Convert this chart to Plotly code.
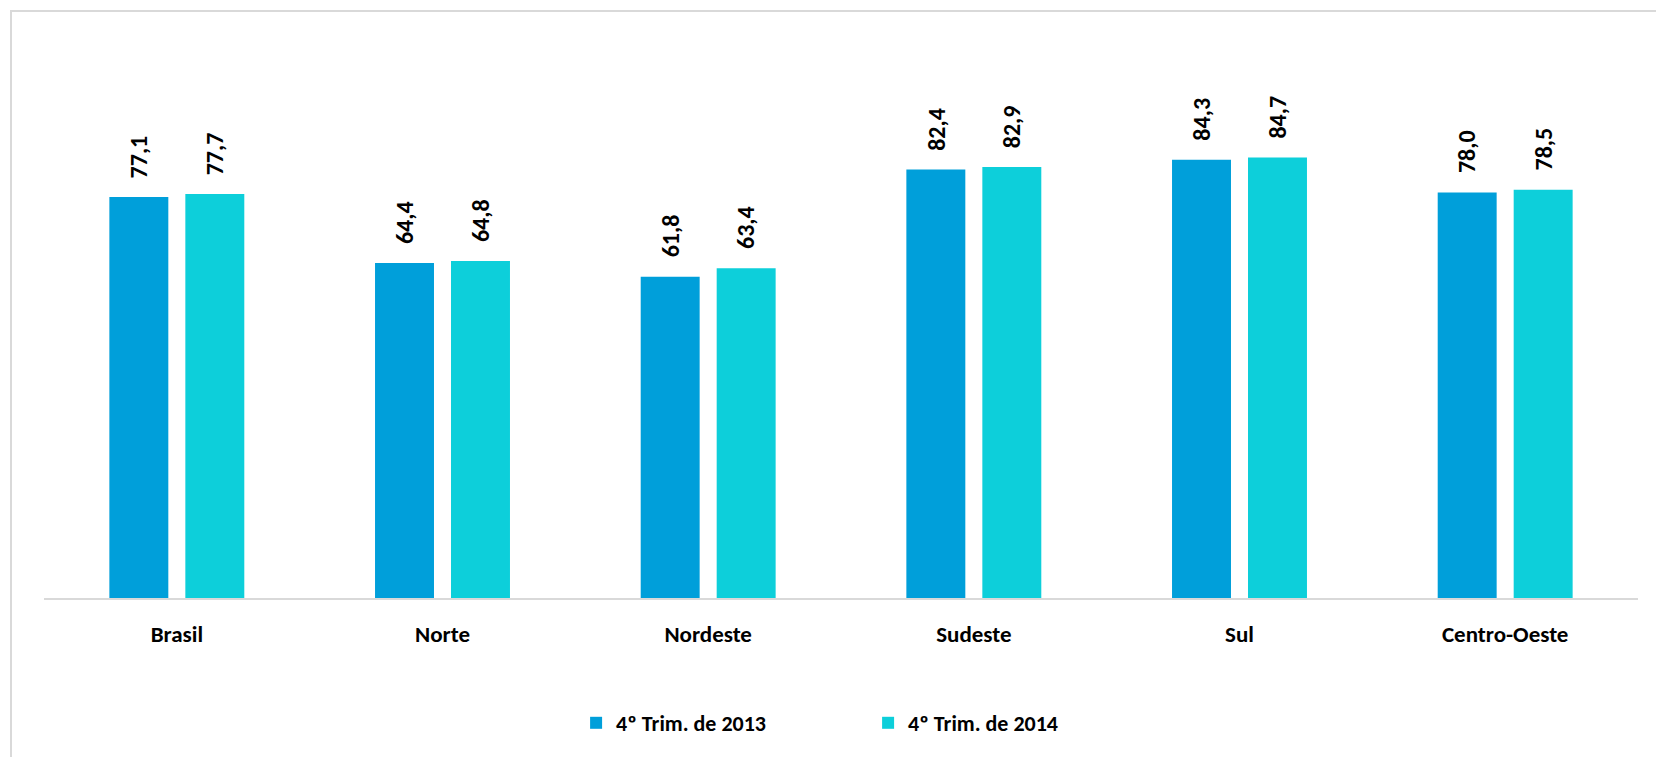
import plotly.graph_objects as go

categories = ["Brasil", "Norte", "Nordeste", "Sudeste", "Sul", "Centro-Oeste"]
series_names = ["4º Trim. de 2013", "4º Trim. de 2014"]
values_2013 = [77.1, 64.4, 61.8, 82.4, 84.3, 78.0]
values_2014 = [77.7, 64.8, 63.4, 82.9, 84.7, 78.5]
colors = ["#009fda", "#0dcfda"]

FONT = "Carlito, Lato, 'Open Sans', sans-serif"
W, H = 1656, 757
ML, MR, MT, MB = 44, 18, 78, 159

fig = go.Figure()
for name, vals, col in zip(series_names, [values_2013, values_2014], colors):
    fig.add_trace(go.Bar(
        x=categories, y=vals, name=name,
        marker=dict(color=col, line=dict(width=0)),
    ))

def fmt(v):
    return f"{v:.1f}".replace(".", ",")

annotations = []
for shift, vals in zip([-38, 38], [values_2013, values_2014]):
    for c, v in zip(categories, vals):
        annotations.append(dict(
            x=c, y=v, xref="x", yref="y", text=fmt(v), showarrow=False,
            textangle=-90, xanchor="center", yanchor="bottom",
            xshift=shift, yshift=17,
            font=dict(family=FONT, size=24, color="#000000", weight="bold"),
        ))

ph = H - MT - MB
pw = W - ML - MR
fig.add_shape(type="rect", xref="paper", yref="paper",
              x0=(11 - ML) / pw, x1=1.2,
              y0=-0.6, y1=(H - MB - 11) / ph,
              line=dict(color="#d9d9d9", width=2), fillcolor="rgba(0,0,0,0)",
              layer="below")

fig.update_layout(
    width=W, height=H,
    margin=dict(l=ML, r=MR, t=MT, b=MB, pad=0),
    paper_bgcolor="white", plot_bgcolor="white",
    barmode="group", bargap=0.428, bargroupgap=0.224,
    annotations=annotations,
    font=dict(family=FONT, color="#000000"),
    xaxis=dict(showline=True, linecolor="#d9d9d9", linewidth=2,
               ticks="", showgrid=False,
               tickfont=dict(family=FONT, size=23, color="#000000", weight="bold"),
               ticklabelstandoff=14),
    yaxis=dict(range=[0, 100], visible=False, showgrid=False, zeroline=False),
    legend=dict(orientation="h", x=0.517, xanchor="center", y=-0.2, yanchor="top",
                font=dict(family=FONT, size=22, color="#000000", weight="bold"),
                itemwidth=30, entrywidth=247, traceorder="normal"),
    showlegend=True,
)

fig.write_html("out.html", config={"displayModeBar": False},
               post_script="document.body.style.margin='0px';")
